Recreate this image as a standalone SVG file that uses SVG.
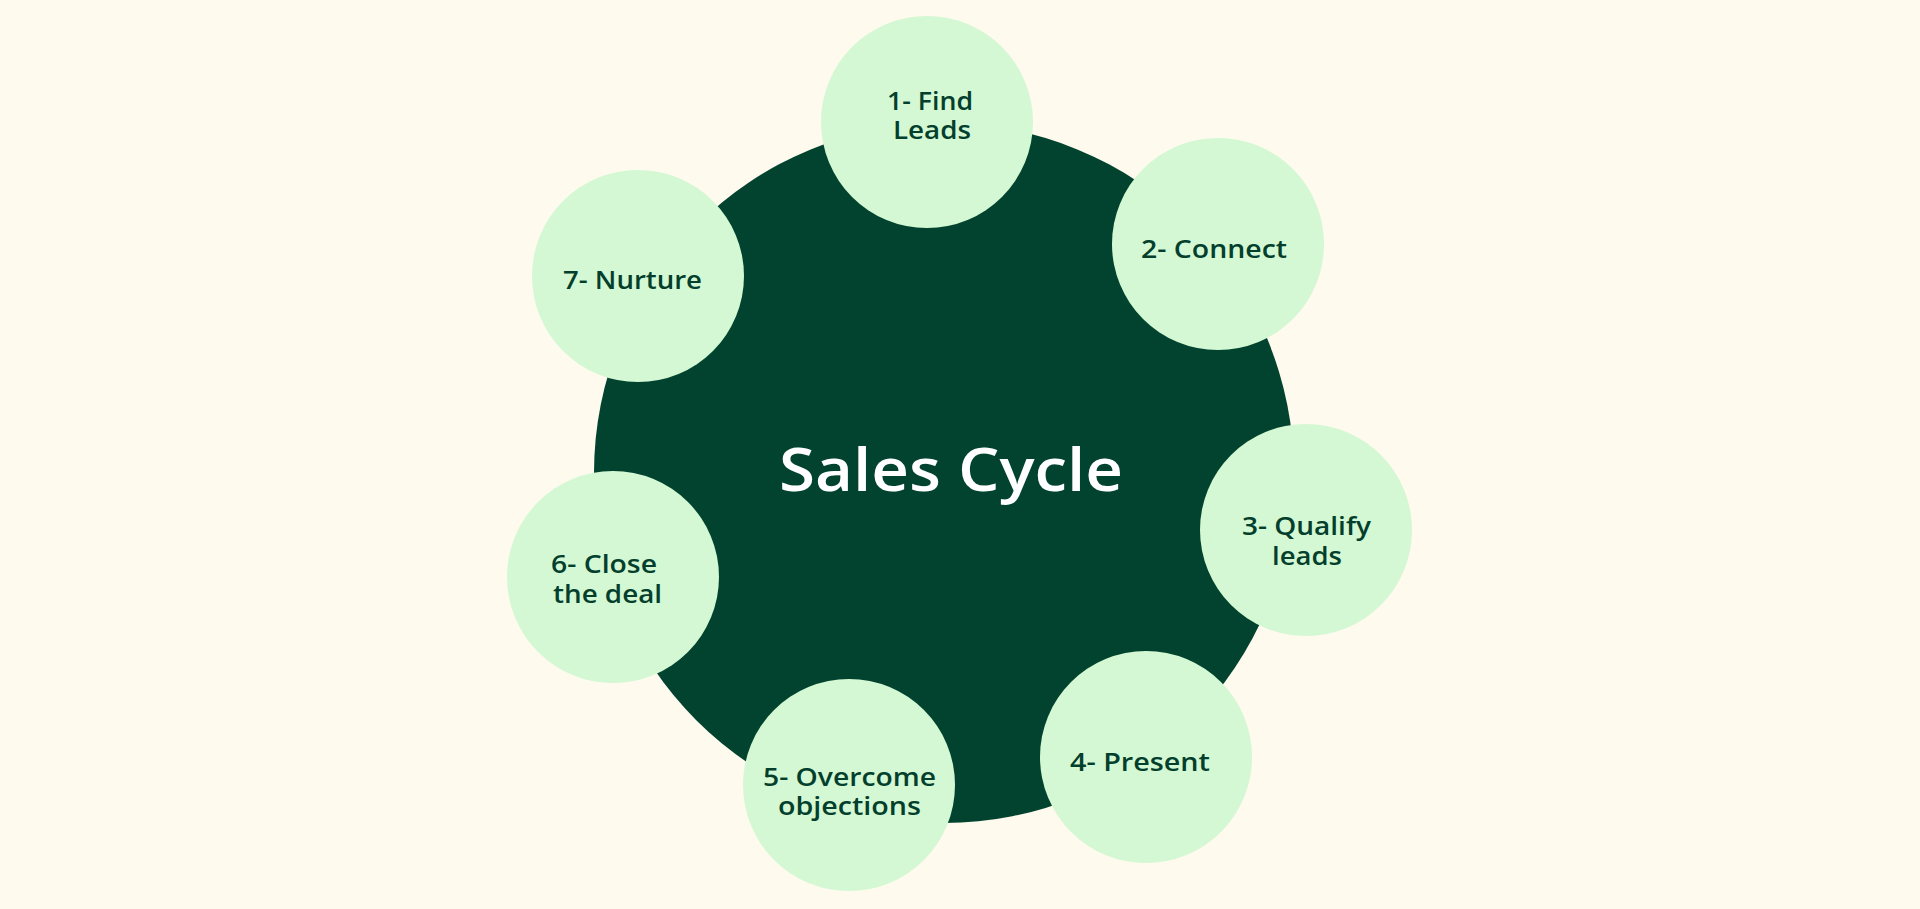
<svg xmlns="http://www.w3.org/2000/svg" width="1920" height="909" viewBox="0 0 1920 909">
<style>
.bg{fill:#FEFAEE}
.hub{fill:#01432F}
.step{fill:#D4F8D3}
.lbl{font-family:"Open Sans","Liberation Sans",sans-serif;font-weight:600;font-size:26px;fill:#033F2C}
.title{font-family:"Open Sans","Liberation Sans",sans-serif;font-weight:600;font-size:60px;fill:#FFFFFF}
</style>
<rect class="bg" x="0" y="0" width="1920" height="909"/>
<g id="connectors"/>
<g id="hub">
<circle class="hub" cx="944" cy="473" r="350"/>
<text class="title" x="779" y="491" textLength="344" lengthAdjust="spacingAndGlyphs">Sales Cycle</text>
</g>
<g id="step1">
<circle class="step" cx="927" cy="122" r="106"/>
<text class="lbl" x="887" y="110" textLength="86" lengthAdjust="spacingAndGlyphs">1- Find</text>
<text class="lbl" x="893" y="139" textLength="78" lengthAdjust="spacingAndGlyphs">Leads</text>
</g>
<g id="step2">
<circle class="step" cx="1218" cy="244" r="106"/>
<text class="lbl" x="1141" y="258" textLength="146" lengthAdjust="spacingAndGlyphs">2- Connect</text>
</g>
<g id="step3">
<circle class="step" cx="1306" cy="530" r="106"/>
<text class="lbl" x="1242" y="535" textLength="129" lengthAdjust="spacingAndGlyphs">3- Qualify</text>
<text class="lbl" x="1272" y="565" textLength="70" lengthAdjust="spacingAndGlyphs">leads</text>
</g>
<g id="step4">
<circle class="step" cx="1146" cy="757" r="106"/>
<text class="lbl" x="1070" y="771" textLength="140" lengthAdjust="spacingAndGlyphs">4- Present</text>
</g>
<g id="step5">
<circle class="step" cx="849" cy="785" r="106"/>
<text class="lbl" x="763" y="786" textLength="173" lengthAdjust="spacingAndGlyphs">5- Overcome</text>
<text class="lbl" x="778" y="815" textLength="143" lengthAdjust="spacingAndGlyphs">objections</text>
</g>
<g id="step6">
<circle class="step" cx="613" cy="577" r="106"/>
<text class="lbl" x="551" y="573" textLength="106" lengthAdjust="spacingAndGlyphs">6- Close</text>
<text class="lbl" x="553" y="603" textLength="109" lengthAdjust="spacingAndGlyphs">the deal</text>
</g>
<g id="step7">
<circle class="step" cx="638" cy="276" r="106"/>
<text class="lbl" x="563" y="289" textLength="139" lengthAdjust="spacingAndGlyphs">7- Nurture</text>
</g>
</svg>
